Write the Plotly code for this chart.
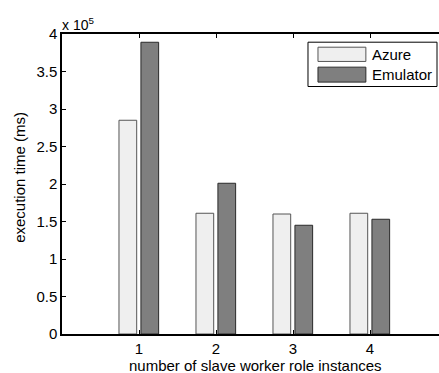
import plotly.graph_objects as go

categories = [1, 2, 3, 4]
azure = [2.85, 1.61, 1.60, 1.61]
emulator = [3.89, 2.01, 1.45, 1.53]
series_names = ["Azure", "Emulator"]
y_ticks = [0, 0.5, 1, 1.5, 2, 2.5, 3, 3.5, 4]
y_tick_labels = ["0", "0.5", "1", "1.5", "2", "2.5", "3", "3.5", "4"]
x_title = "number of slave worker role instances"
y_title = "execution time (ms)"

FONT = "Liberation Sans, Arial, Helvetica, sans-serif"
AZ_FILL, AZ_LINE = "#efefef", "#555555"
EM_FILL, EM_LINE = "#7f7f7f", "#2a2a2a"

fig = go.Figure()
fig.add_trace(go.Bar(x=categories, y=azure, width=0.23, offset=-0.26,
                     marker=dict(color=AZ_FILL, line=dict(color=AZ_LINE, width=1)),
                     name=series_names[0], showlegend=False))
fig.add_trace(go.Bar(x=categories, y=emulator, width=0.23, offset=0.025,
                     marker=dict(color=EM_FILL, line=dict(color=EM_LINE, width=1)),
                     name=series_names[1], showlegend=False))

# manual legend box
fig.add_shape(type="rect", xref="paper", yref="paper", x0=0.6525, x1=0.9947, y0=0.825, y1=0.9727,
              line=dict(color="black", width=1), fillcolor="white", layer="above")
fig.add_shape(type="rect", xref="paper", yref="paper", x0=0.679, x1=0.806, y0=0.9085, y1=0.956,
              line=dict(color=AZ_LINE, width=1), fillcolor=AZ_FILL, layer="above")
fig.add_shape(type="rect", xref="paper", yref="paper", x0=0.679, x1=0.806, y0=0.8396, y1=0.8895,
              line=dict(color=EM_LINE, width=1), fillcolor=EM_FILL, layer="above")
for name, yy in zip(series_names, [0.9318, 0.8652]):
    fig.add_annotation(text=name, xref="paper", yref="paper", x=0.818, y=yy,
                       xanchor="left", yanchor="middle", showarrow=False,
                       font=dict(family=FONT, size=15, color="black"))

# exponent label
fig.add_annotation(text="x 10<sup>5</sup>", xref="paper", yref="paper", x=-0.005, y=1.0,
                   xanchor="left", yanchor="bottom", showarrow=False, yshift=-1,
                   font=dict(family=FONT, size=14, color="black"))

# axis titles
fig.add_annotation(text=x_title, xref="paper", yref="paper", x=0.512, y=-0.106,
                   xanchor="center", yanchor="middle", showarrow=False,
                   font=dict(family=FONT, size=15, color="black"))
fig.add_annotation(text=y_title, xref="paper", yref="paper", x=-0.111, y=0.521,
                   xanchor="center", yanchor="middle", showarrow=False, textangle=-90,
                   font=dict(family=FONT, size=15, color="black"))

fig.update_layout(
    width=439, height=373,
    margin=dict(l=62, r=0, t=34, b=39),
    plot_bgcolor="white", paper_bgcolor="white",
    font=dict(family=FONT, size=15, color="black"),
    xaxis=dict(range=[0, 377 / 77], tickvals=categories, ticktext=[str(c) for c in categories],
               ticks="inside", ticklen=4, tickcolor="black", showline=True, linecolor="black",
               linewidth=1.5, mirror="ticks", showgrid=False, zeroline=False, automargin=False,
               tickfont=dict(size=15)),
    yaxis=dict(range=[0, 4], tickvals=y_ticks, ticktext=y_tick_labels,
               ticks="inside", ticklen=4, tickcolor="black", showline=True, linecolor="black",
               linewidth=1.5, mirror=False, showgrid=False, zeroline=False, automargin=False,
               tickfont=dict(size=15)),
)

fig.write_html("out.html", config={"displayModeBar": False},
               post_script="document.body.style.margin='0';document.body.style.overflow='hidden';")
